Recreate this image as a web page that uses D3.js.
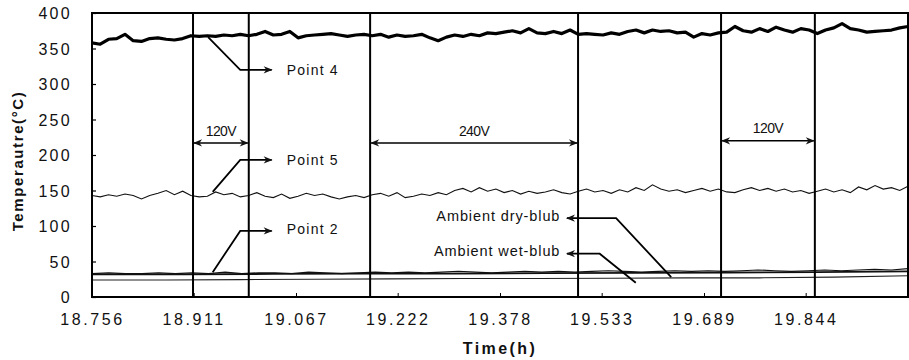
<!DOCTYPE html>
<html><head><meta charset="utf-8">
<script src="https://cdn.jsdelivr.net/npm/d3@7"></script>
<style>body{margin:0;background:#fff}svg{display:block}text{font-family:"Liberation Sans",Arial,sans-serif;fill:#111}</style>
</head><body><svg id="c" width="909" height="360"></svg>
<script>
// ---- data ----
const tStart = 18.756, tEnd = 20.0;
const xTickValues = [18.756, 18.911, 19.067, 19.222, 19.378, 19.533, 19.689, 19.844];
const xTickLabels = ["18.756","18.911","19.067","19.222","19.378","19.533","19.689","19.844"];
const yTickValues = [0,50,100,150,200,250,300,350,400];
const point4 = [358,356,363,364,370,361,360,364,365,363,362,364,368,367,368,367,369,368,370,368,
  370,374,369,370,374,365,368,369,370,371,369,367,369,370,368,370,366,369,367,368,
  370,365,361,366,369,367,370,368,372,371,373,375,372,378,372,371,374,371,376,370,
  371,370,369,372,370,374,376,372,376,374,375,372,373,366,371,369,372,373,381,375,
  373,378,374,380,376,373,378,376,371,376,379,385,378,376,373,374,375,376,379,381];
const point5 = [143,141,144,142,145,143,138,143,146,150,144,149,143,141,142,148,144,146,141,143,
  147,142,140,145,139,142,146,143,145,141,138,141,143,140,144,146,142,147,140,142,
  145,143,147,144,150,153,148,154,149,152,147,150,145,149,146,148,151,147,145,149,
  152,148,150,146,151,148,154,150,158,152,149,151,147,150,153,149,152,148,147,151,
  154,150,153,149,152,148,150,146,149,152,148,151,147,155,151,157,152,154,150,156];
const point2 = [33,34,33,33,34,33,34,33,35,33,34,34,33,35,34,33,34,35,34,35,34,35,36,35,34,
  35,36,35,36,35,36,37,36,35,36,37,36,37,36,37,38,37,36,37,38,37,38,39,38,40];
const ambientDry = [32,32,32.5,33,33,33.5,34,34.5,35,36];
const ambientWet = [24,24,24.5,25,25.5,26,26,26.5,27,27,28,30];
const switchTimes = [18.910, 18.995, 19.180, 19.497, 19.715, 19.858];
const voltageSpans = [
  {label:"120V", t0:18.910, t1:18.995, v:217, lv:234},
  {label:"240V", t0:19.180, t1:19.497, v:217, lv:234},
  {label:"120V", t0:19.715, t1:19.858, v:220, lv:238}
];
const pointLabels = [
  {label:"Point 4", pts:[[18.933,366],[18.982,320],[19.030,320]], tv:[19.053,320]},
  {label:"Point 5", pts:[[18.940,148],[18.982,193],[19.030,193]], tv:[19.053,193]},
  {label:"Point 2", pts:[[18.940,35],[18.982,93],[19.030,93]], tv:[19.053,95]}
];
const ambientLabels = [
  {label:"Ambient dry-blub", pts:[[19.639,28],[19.555,111],[19.480,111]], tv:[19.470,114]},
  {label:"Ambient wet-blub", pts:[[19.585,20],[19.530,61],[19.480,61]], tv:[19.470,65]}
];

// ---- chart ----
const svg = d3.select("#c");
const x = d3.scaleLinear().domain([tStart,tEnd]).range([92,908]);
const y = d3.scaleLinear().domain([0,400]).range([297,13]);
const series = arr => arr.map((v,i)=>[tStart + i*(tEnd-tStart)/(arr.length-1), v]);
const line = d3.line().x(d=>x(d[0])).y(d=>y(d[1]));

const defs = svg.append("defs");
defs.append("marker").attr("id","ah2").attr("viewBox","0 0 10 10").attr("refX",9).attr("refY",5)
  .attr("markerWidth",11).attr("markerHeight",9).attr("markerUnits","userSpaceOnUse").attr("orient","auto-start-reverse")
  .append("path").attr("d","M0,1 L10,5 L0,9 L3,5 Z").attr("fill","#111");

// data lines
svg.append("path").datum(series(ambientWet)).attr("d",line).attr("fill","none").attr("stroke","#222").attr("stroke-width",1.1);
svg.append("path").datum(series(ambientDry)).attr("d",line).attr("fill","none").attr("stroke","#111").attr("stroke-width",1.8);
svg.append("path").datum(series(point2)).attr("d",line).attr("fill","none").attr("stroke","#111").attr("stroke-width",1.2);
svg.append("path").datum(series(point5)).attr("d",line).attr("fill","none").attr("stroke","#111").attr("stroke-width",1.1);
svg.append("path").datum(series(point4)).attr("d",line).attr("fill","none").attr("stroke","#000").attr("stroke-width",3.2).attr("stroke-linejoin","round");

// switch lines
svg.selectAll(".sw").data(switchTimes).join("line")
  .attr("x1",d=>x(d)).attr("x2",d=>x(d)).attr("y1",y(400)).attr("y2",y(0))
  .attr("stroke","#000").attr("stroke-width",2);

// frame
svg.append("rect").attr("x",x(tStart)).attr("y",y(400)).attr("width",x(tEnd)-x(tStart)).attr("height",y(0)-y(400))
  .attr("fill","none").attr("stroke","#000").attr("stroke-width",2);

// axes
const yAxis = svg.append("g").attr("transform",`translate(${x(tStart)},0)`)
  .call(d3.axisLeft(y).tickValues(yTickValues).tickSize(-4).tickPadding(20));
yAxis.select(".domain").remove();
yAxis.selectAll("text").attr("font-size",16).attr("letter-spacing",2.3).attr("fill","#111").attr("dy","0.36em");
yAxis.selectAll(".tick line").attr("stroke","#000").attr("stroke-width",1.2);

const xAxis = svg.append("g").attr("transform",`translate(0,${y(0)})`)
  .call(d3.axisBottom(x).tickValues(xTickValues).tickFormat((d,i)=>xTickLabels[i]).tickSize(-4).tickPadding(17));
xAxis.select(".domain").remove();
xAxis.selectAll("text").attr("font-size",16).attr("letter-spacing",2.6).attr("fill","#111");
xAxis.selectAll(".tick line").attr("stroke","#000").attr("stroke-width",1);

// axis titles
svg.append("text").attr("transform",`translate(23,161) rotate(-90)`).attr("text-anchor","middle")
  .attr("font-size",15).style("font-weight","bold").attr("letter-spacing",1.6).text("Temperautre(°C)");
svg.append("text").attr("x",(x(tStart)+x(tEnd))/2).attr("y",354).attr("text-anchor","middle")
  .attr("font-size",16).style("font-weight","bold").attr("letter-spacing",2.4).text("Time(h)");

// voltage spans
const vs = svg.selectAll(".vs").data(voltageSpans).join("g");
vs.append("line").attr("x1",d=>x(d.t0)+1).attr("x2",d=>x(d.t1)-1).attr("y1",d=>y(d.v)).attr("y2",d=>y(d.v))
  .attr("stroke","#000").attr("stroke-width",1.6).attr("marker-start","url(#ah2)").attr("marker-end","url(#ah2)");
vs.append("text").attr("x",d=>(x(d.t0)+x(d.t1))/2).attr("y",d=>y(d.lv)).attr("dy","0.35em").attr("text-anchor","middle")
  .attr("font-size",14).attr("letter-spacing",-0.6).text(d=>d.label);

// point labels
const lineRaw = d3.line().x(d=>x(d[0])).y(d=>y(d[1]));
const pl = svg.selectAll(".pl").data(pointLabels).join("g");
pl.append("path").attr("d",d=>lineRaw(d.pts)).attr("fill","none").attr("stroke","#000").attr("stroke-width",1.8).attr("marker-end","url(#ah2)");
pl.append("text").attr("x",d=>x(d.tv[0])).attr("y",d=>y(d.tv[1])).attr("dy","0.35em")
  .attr("font-size",14).attr("letter-spacing",1.2).text(d=>d.label);

const al = svg.selectAll(".al").data(ambientLabels).join("g");
al.append("path").attr("d",d=>lineRaw(d.pts)).attr("fill","none").attr("stroke","#000").attr("stroke-width",1.8).attr("marker-end","url(#ah2)");
al.append("text").attr("x",d=>x(d.tv[0])).attr("y",d=>y(d.tv[1])).attr("dy","0.35em").attr("text-anchor","end")
  .attr("font-size",14.5).attr("letter-spacing",0.9).text(d=>d.label);
</script></body></html>
